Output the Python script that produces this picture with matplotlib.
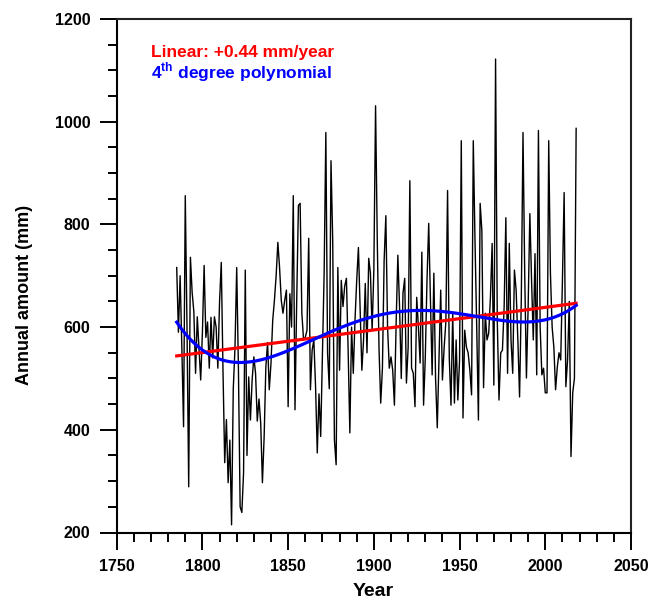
import numpy as np
import matplotlib
matplotlib.use("Agg")
import matplotlib.pyplot as plt
from matplotlib.ticker import MultipleLocator

plt.rcParams['font.family'] = ['Liberation Sans', 'DejaVu Sans']
plt.rcParams['mathtext.fontset'] = 'custom'
plt.rcParams['mathtext.rm'] = 'Liberation Sans'
plt.rcParams['mathtext.bf'] = 'Liberation Sans:bold'

# annual precipitation totals (mm), one value per year from 1785
first_year = 1785
amounts = [
    716, 590, 700, 560, 406, 856, 600, 289, 736, 668,   # 1785-1794
    630, 510, 620, 560, 497, 590, 720, 580, 610, 520,   # 1795-1804
    619, 540, 620, 600, 520, 650, 726, 516, 336, 420,   # 1805-1814
    297, 380, 215, 480, 560, 716, 520, 250, 239, 316,   # 1815-1824
    711, 350, 503, 419, 497, 542, 510, 417, 460, 413,   # 1825-1834
    297, 386, 522, 570, 478, 530, 613, 652, 700, 765,   # 1835-1844
    716, 652, 627, 652, 672, 445, 665, 600, 856, 439,   # 1845-1854
    652, 837, 841, 627, 575, 580, 594, 773, 478, 555,   # 1855-1864
    575, 484, 355, 470, 387, 550, 705, 979, 550, 480,   # 1865-1874
    924, 769, 380, 332, 716, 516, 691, 640, 680, 695,   # 1875-1884
    555, 394, 600, 510, 613, 691, 755, 639, 516, 575,   # 1885-1894
    685, 550, 734, 705, 594, 711, 1031, 769, 560, 452,  # 1895-1904
    520, 730, 817, 600, 520, 542, 516, 448, 608, 740,   # 1905-1914
    639, 500, 666, 695, 491, 560, 885, 520, 510, 445,   # 1915-1924
    658, 600, 530, 746, 448, 540, 691, 802, 650, 507,   # 1925-1934
    705, 500, 404, 540, 672, 497, 560, 610, 866, 540,   # 1935-1944
    448, 627, 452, 575, 458, 536, 963, 423, 594, 561,   # 1945-1954
    550, 516, 468, 963, 769, 600, 419, 841, 788, 482,   # 1955-1964
    627, 575, 588, 658, 763, 487, 1122, 613, 458, 550,  # 1965-1974
    555, 639, 813, 510, 763, 575, 510, 711, 672, 575,   # 1975-1984
    464, 652, 979, 705, 501, 639, 821, 691, 575, 743,   # 1985-1994
    507, 983, 600, 507, 520, 472, 472, 963, 705, 600,   # 1995-2004
    561, 478, 522, 550, 536, 691, 862, 484, 536, 650,   # 2005-2014
    348, 472, 500, 987,                                 # 2015-2018
]
years = np.arange(first_year, first_year + len(amounts))
amounts = np.array(amounts, dtype=float)

trend_slope = 0.44  # mm/year

# linear trend with the stated slope, 4th degree polynomial fit
yc = years - years.mean()
trend = amounts.mean() + trend_slope * yc
poly = np.polyval(np.polyfit(yc, amounts, 4), yc)

fig = plt.figure(figsize=(6.63, 6.02), dpi=100)
ax = fig.add_axes([116.7 / 663, 1 - 532.5 / 602, (631 - 116.7) / 663, (532.5 - 19) / 602])

ax.plot(years, amounts, color='black', lw=1.0)
ax.plot(years, trend, color='#ff0000', lw=2.3)
ax.plot(years, poly, color='#0000ff', lw=2.3)

ax.set_xlim(1750, 2050)
ax.set_ylim(200, 1200)
ax.xaxis.set_major_locator(MultipleLocator(50))
ax.xaxis.set_minor_locator(MultipleLocator(10))
ax.yaxis.set_major_locator(MultipleLocator(200))
ax.yaxis.set_minor_locator(MultipleLocator(50))
ax.tick_params(which='major', direction='out', length=12, width=1.4, pad=7,
               labelsize=11.5)
ax.tick_params(which='minor', direction='out', length=6.5, width=1.4)
for lab in ax.get_xticklabels() + ax.get_yticklabels():
    lab.set_fontweight('bold')
for side in ['left', 'bottom']:
    ax.spines[side].set_linewidth(1.5)
for side in ['top', 'right']:
    ax.spines[side].set_linewidth(1.5)
    ax.spines[side].set_color('#222222')

# two-line legend text in the upper left
ax.text(150.7 / 663, 1 - 56.5 / 602, 'Linear: +%.2f mm/year' % trend_slope,
        transform=fig.transFigure, color='#ff0000', fontsize=12.5,
        fontweight='bold', va='baseline')
ax.text(150.7 / 663, 1 - 78.5 / 602, r'4$^{\mathbf{th}}$ degree polynomial',
        transform=fig.transFigure, color='#0000ff', fontsize=12.5,
        fontweight='bold', va='baseline')

fig.text(373 / 663, 1 - 591 / 602, 'Year', ha='center', va='center',
         fontsize=14, fontweight='bold')
fig.text(25 / 663, 1 - 295 / 602, 'Annual amount (mm)', ha='center',
         va='center', rotation=90, fontsize=13, fontweight='bold')

fig.savefig('out.png', dpi=100)
